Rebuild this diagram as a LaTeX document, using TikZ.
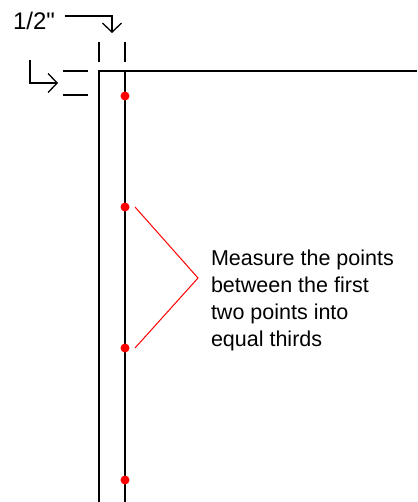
\documentclass[tikz,border=0pt]{standalone}
\usepackage{fontspec}
\setmainfont{Liberation Sans}[Ligatures=TeXOff]
\usetikzlibrary{arrows.meta}

\begin{document}
\begin{tikzpicture}[x=1pt, y=-1pt, line width=2pt,
  every node/.style={inner sep=0pt},
  hook/.style={line width=1.3pt, -{Straight Barb[length=9pt,width=19pt,line width=1.3pt]}}]
\tikzset{dot/.style={circle, fill=red, minimum size=9pt}}
\useasboundingbox (0,0) rectangle (417,502);
\coordinate (e1) at (99,502);
\coordinate (e2) at (99,71);
\coordinate (e3) at (417,71);
\coordinate (e4) at (125,71);
\coordinate (e5) at (125,502);
\draw (e1) -- (e2) -- (e3);
\draw (e4) -- (e5);
\coordinate (v1) at (99,42);
\coordinate (v2) at (99,62);
\coordinate (v3) at (125,42);
\coordinate (v4) at (125,62);
\coordinate (h1) at (63,71);
\coordinate (h2) at (88,71);
\coordinate (h3) at (63,95);
\coordinate (h4) at (88,95);
\draw (v1) -- (v2);
\draw (v3) -- (v4);
\draw (h1) -- (h2);
\draw (h3) -- (h4);
\node[anchor=west, font=\fontsize{24}{24}\selectfont] (half) at (12,21) {1/2"};
\coordinate (a1) at (65,16);
\coordinate (a2) at (112,16);
\coordinate (a3) at (112,33);
\draw[hook] (a1) -- (a2) -- (a3);
\coordinate (l1) at (30,60);
\coordinate (l2) at (30,83);
\coordinate (l3) at (58,83);
\draw[hook] (l1) -- (l2) -- (l3);
\node[dot] (d1) at (125,96)  {};
\node[dot] (d2) at (125,207) {};
\node[dot] (d3) at (125,348) {};
\node[dot] (d4) at (125,480) {};
\coordinate (b1) at ([xshift=10pt]d2.center);
\coordinate (b2) at (198,278);
\coordinate (b3) at ([xshift=10pt]d3.center);
\draw[red, line width=1pt] (b1) -- (b2) -- (b3);
\node[anchor=north west, align=left, font=\fontsize{21.5}{27}\selectfont] (note) at (210,249)
  {Measure the points\\between the first\\two points into\\equal thirds};
\end{tikzpicture}
\end{document}
